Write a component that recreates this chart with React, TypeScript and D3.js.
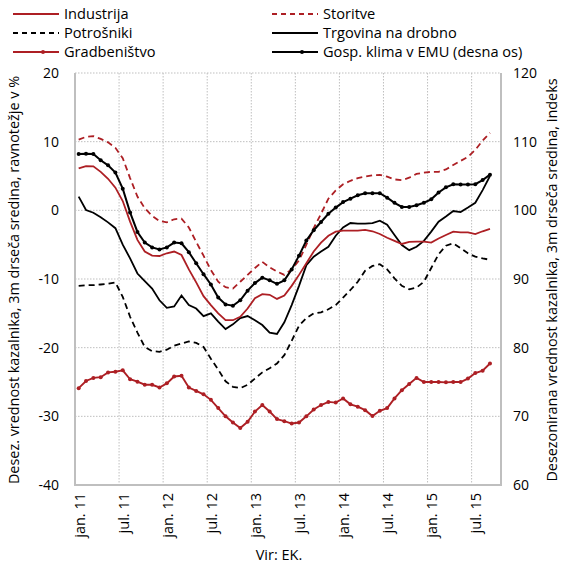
import React from "react";
import * as d3 from "d3";

const tickLabels = ["jan. 11", "jul. 11", "jan. 12", "jul. 12", "jan. 13", "jul. 13", "jan. 14", "jul. 14", "jan. 15", "jul. 15"];
const leftTicks = [20, 10, 0, -10, -20, -30, -40];
const rightTicks = [120, 110, 100, 90, 80, 70, 60];

const industrija = [6.1, 6.45, 6.4, 5.6, 4.6, 3.3, 1.35, -1.65, -4.3, -6.0, -6.6, -6.65, -6.25, -6.0, -6.5, -8.6, -10.5, -12.5, -13.8, -15.0, -16.0, -16.0, -15.5, -14.3, -12.8, -12.2, -12.3, -12.9, -12.4, -11.0, -9.4, -7.7, -6.0, -4.7, -3.7, -3.1, -2.95, -2.95, -2.95, -2.85, -3.05, -3.45, -4.0, -4.45, -4.9, -4.6, -4.55, -4.55, -4.7, -4.1, -3.6, -3.1, -3.2, -3.2, -3.45, -3.05, -2.7];
const storitve = [10.3, 10.7, 10.8, 10.4, 9.9, 9.1, 7.6, 4.7, 2.0, 0.3, -0.8, -1.55, -1.75, -1.3, -1.2, -2.5, -4.6, -6.6, -8.7, -10.4, -11.2, -11.4, -10.4, -9.4, -8.4, -7.5, -8.3, -8.9, -9.4, -8.6, -7.3, -5.0, -2.6, -0.5, 1.7, 2.9, 3.8, 4.3, 4.7, 4.9, 5.1, 5.15, 4.9, 4.5, 4.4, 4.75, 5.3, 5.5, 5.6, 5.6, 5.95, 6.6, 7.2, 7.8, 8.8, 10.15, 11.3];
const potrosniki = [-11.0, -10.9, -10.9, -10.8, -10.7, -10.5, -12.6, -15.5, -17.8, -19.9, -20.5, -20.6, -20.3, -19.7, -19.4, -19.1, -19.3, -19.9, -21.6, -23.2, -24.9, -25.7, -25.9, -25.4, -24.5, -23.6, -23.0, -22.3, -21.1, -19.0, -16.8, -15.7, -15.0, -14.85, -14.4, -13.8, -12.7, -11.6, -10.4, -8.8, -8.1, -7.85, -8.6, -9.9, -11.0, -11.5, -11.25, -10.4, -8.4, -6.4, -5.15, -4.8, -5.5, -6.25, -6.75, -7.0, -7.2];
const trgovina = [2.0, 0.05, -0.35, -1.0, -1.75, -2.6, -5.0, -7.0, -9.2, -10.3, -11.4, -13.1, -14.2, -14.0, -12.4, -13.8, -14.3, -15.4, -15.0, -16.2, -17.3, -16.6, -15.7, -15.4, -16.0, -16.7, -17.8, -18.0, -16.3, -13.8, -11.0, -8.0, -6.75, -6.0, -5.3, -3.7, -2.5, -1.85, -1.95, -1.95, -1.85, -1.5, -2.1, -3.6, -5.05, -5.8, -5.3, -4.45, -3.1, -1.65, -0.9, -0.1, -0.25, 0.4, 1.1, 2.95, 5.0];
const gradbenistvo = [-25.9, -24.85, -24.4, -24.3, -23.6, -23.5, -23.3, -24.6, -24.95, -25.4, -25.4, -25.8, -25.2, -24.2, -24.1, -25.8, -26.3, -26.8, -27.6, -28.8, -30.0, -30.9, -31.7, -30.8, -29.3, -28.35, -29.3, -30.4, -30.7, -31.05, -30.9, -30.0, -29.0, -28.35, -27.9, -28.0, -27.4, -28.25, -28.6, -29.1, -29.95, -29.2, -28.8, -27.4, -26.2, -25.3, -24.4, -25.0, -25.0, -25.0, -25.05, -25.0, -25.0, -24.5, -23.7, -23.35, -22.3];
const gospKlimaEMU = [108.2, 108.25, 108.2, 107.3, 106.55, 105.5, 103.15, 99.7, 96.85, 95.3, 94.6, 94.3, 94.6, 95.3, 95.2, 93.9, 92.3, 90.7, 89.2, 87.3, 86.3, 86.1, 86.9, 88.3, 89.4, 90.2, 89.8, 89.3, 89.8, 91.4, 93.4, 95.6, 97.1, 98.3, 99.5, 100.4, 101.2, 101.7, 102.2, 102.5, 102.5, 102.5, 101.85, 101.1, 100.5, 100.5, 100.75, 101.1, 101.6, 102.6, 103.35, 103.8, 103.75, 103.75, 103.8, 104.4, 105.2];

const RED = "#ad1f24";
const BLACK = "#000000";
const AXIS = "#bfbfbf";
const FONT = "'Open Sans', 'Noto Sans', sans-serif";

const W = 562;
const H = 565;
const L = 75;
const R = 501;
const T = 73;
const B = 485;
const N_CAT = 58;

export default function App() {
  const x = d3.scaleLinear().domain([0, N_CAT]).range([L, R]);
  const y = d3.scaleLinear().domain([-40, 20]).range([B, T]);
  const y2 = d3.scaleLinear().domain([60, 120]).range([B, T]);
  const cx = (i: number) => x(i + 0.5);

  const lineL = d3.line<number>().x((_, i) => cx(i)).y((d) => y(d));
  const lineR = d3.line<number>().x((_, i) => cx(i)).y((d) => y2(d));

  const gridX = d3.range(6, N_CAT, 6);

  const legend = [
    { label: "Industrija", color: RED, dash: null, marker: false, col: 0, row: 0 },
    { label: "Potrošniki", color: BLACK, dash: "5,4", marker: false, col: 0, row: 1 },
    { label: "Gradbeništvo", color: RED, dash: null, marker: true, col: 0, row: 2 },
    { label: "Storitve", color: RED, dash: "5,4", marker: false, col: 1, row: 0 },
    { label: "Trgovina na drobno", color: BLACK, dash: null, marker: false, col: 1, row: 1 },
    { label: "Gosp. klima v EMU (desna os)", color: BLACK, dash: null, marker: true, col: 1, row: 2 },
  ];

  return (
    <svg width={W} height={H} style={{ position: "absolute", left: 0, top: 0, background: "#fff" }} fontFamily={FONT}>
      <rect width={W} height={H} fill="#fff" />
      {leftTicks.filter((t) => t > -40).map((t) => (
        <line key={"gy" + t} x1={L} x2={R} y1={y(t)} y2={y(t)} stroke={AXIS} strokeWidth={1} strokeDasharray="1.5,1.5" />
      ))}
      {gridX.map((c) => (
        <line key={"gx" + c} x1={x(c)} x2={x(c)} y1={T} y2={B + 2} stroke={AXIS} strokeWidth={1} strokeDasharray="1.5,1.5" />
      ))}
      <line x1={L} x2={L} y1={T} y2={B} stroke={AXIS} strokeWidth={2} />
      <line x1={R} x2={R} y1={T} y2={B} stroke={AXIS} strokeWidth={2} />
      <line x1={L - 1} x2={R + 1} y1={B} y2={B} stroke={AXIS} strokeWidth={2} />

      <path d={lineL(potrosniki) || ""} fill="none" stroke={BLACK} strokeWidth={1.8} strokeDasharray="6,4" />
      <path d={lineL(trgovina) || ""} fill="none" stroke={BLACK} strokeWidth={1.8} />
      <path d={lineL(storitve) || ""} fill="none" stroke={RED} strokeWidth={1.8} strokeDasharray="6,4" />
      <path d={lineL(industrija) || ""} fill="none" stroke={RED} strokeWidth={1.8} />
      <path d={lineL(gradbenistvo) || ""} fill="none" stroke={RED} strokeWidth={1.9} />
      {gradbenistvo.map((d, i) => (
        <circle key={"gm" + i} cx={cx(i)} cy={y(d)} r={2} fill={RED} />
      ))}
      <path d={lineR(gospKlimaEMU) || ""} fill="none" stroke={BLACK} strokeWidth={2} />
      {gospKlimaEMU.map((d, i) => (
        <circle key={"em" + i} cx={cx(i)} cy={y2(d)} r={2} fill={BLACK} />
      ))}

      {leftTicks.map((t) => (
        <text key={"lt" + t} x={59} y={y(t)} dy="0.35em" textAnchor="end" fontSize={14}>{t}</text>
      ))}
      {rightTicks.map((t) => (
        <text key={"rt" + t} x={513} y={y2(t)} dy="0.35em" textAnchor="start" fontSize={14}>{t}</text>
      ))}
      {tickLabels.map((lab, k) => (
        <text key={"xt" + k} transform={`translate(${cx(k * 6) + 1},${B + 8}) rotate(-90)`} dy="0.35em" textAnchor="end" fontSize={14.5}>
          {lab}
        </text>
      ))}
      <text transform={`translate(19,${(T + B) / 2 + 1}) rotate(-90)`} textAnchor="middle" fontSize={14.4}>
        Desez. vrednost kazalnika, 3m drseča sredina, ravnotežje v %
      </text>
      <text transform={`translate(557,${(T + B) / 2 + 1}) rotate(-90)`} textAnchor="middle" fontSize={14.4}>
        Desezonirana vrednost kazalnika, 3m drseča sredina, indeks
      </text>
      <text x={279} y={560} textAnchor="middle" fontSize={14.5}>Vir: EK.</text>

      {legend.map((g) => {
        const lx = g.col === 0 ? 13 : 272;
        const ly = 14 + g.row * 19;
        return (
          <g key={g.label}>
            <line x1={lx} x2={lx + 46} y1={ly} y2={ly} stroke={g.color} strokeWidth={1.8} strokeDasharray={g.dash || undefined} />
            {g.marker && <circle cx={lx + 30} cy={ly} r={2} fill={g.color} />}
            <text x={lx + 51} y={ly} dy="0.35em" fontSize={14.6}>{g.label}</text>
          </g>
        );
      })}
    </svg>
  );
}
